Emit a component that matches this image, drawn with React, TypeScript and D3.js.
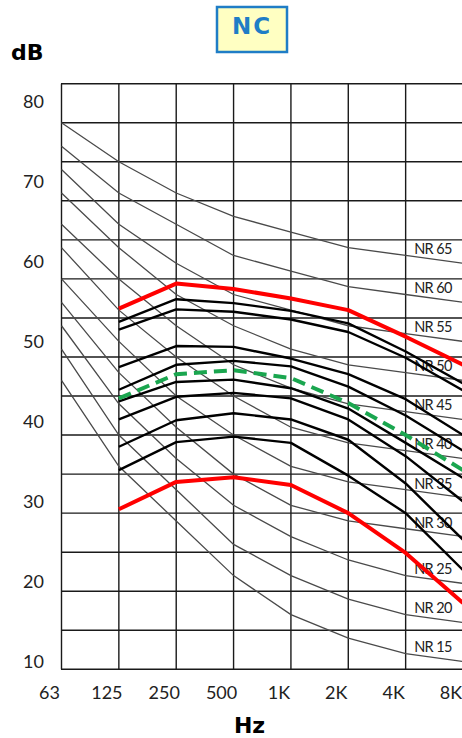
import React from "react";
import * as d3 from "d3";

const W = 462;
const H = 738;

// Frequency bands (octave centres) and axis labels
const freqLabels = ["63", "125", "250", "500", "1K", "2K", "4K", "8K"];
const spectrumFreqs = ["125", "250", "500", "1K", "2K", "4K", "8K"];
const dbTickLabels = [10, 20, 30, 40, 50, 60, 70, 80];
const gridLevels = [10, 15, 20, 25, 30, 35, 40, 45, 50, 55, 60, 65, 70, 75, 80, 85];

// Reference curves (thin grey) – values per octave band 63..8K
const curveNames = ["NR 15", "NR 20", "NR 25", "NR 30", "NR 35", "NR 40", "NR 45", "NR 50", "NR 55", "NR 60", "NR 65"];
const curve15 = [47, 36, 29, 22, 17, 14, 12, 11];
const curve20 = [51, 40, 33, 26, 22, 19, 17, 16];
const curve25 = [54, 44, 37, 31, 27, 24, 22, 21];
const curve30 = [57, 48, 41, 35, 31, 29, 28, 27];
const curve35 = [60, 52, 45, 40, 36, 34, 33, 32];
const curve40 = [64, 56, 50, 45, 41, 39, 38, 37];
const curve45 = [67, 60, 54, 49, 46, 44, 43, 42];
const curve50 = [71, 64, 58, 54, 51, 49, 48, 47];
const curve55 = [74, 67, 62, 58, 56, 54, 53, 52];
const curve60 = [77, 71, 67, 63, 61, 59, 58, 57];
const curve65 = [80, 75, 71, 68, 66, 64, 63, 62];
const curves = [curve15, curve20, curve25, curve30, curve35, curve40, curve45, curve50, curve55, curve60, curve65];

// Measured spectra (black) – values per octave band 125..8K
const black1 = [54.5, 57.4, 56.9, 55.9, 54.3, 50.7, 46.6];
const black2 = [53.5, 56.1, 55.8, 54.8, 53.2, 49.9, 45.7];
const black3 = [48.7, 51.4, 51.3, 49.8, 47.8, 44.6, 40.0];
const black4 = [45.8, 49.0, 49.5, 48.8, 46.2, 42.5, 38.0];
const black5 = [44.3, 46.8, 47.1, 46.0, 43.4, 39.0, 34.5];
const black6 = [42.0, 44.9, 45.4, 44.7, 42.0, 37.3, 31.5];
const black7 = [38.5, 41.9, 42.8, 42.0, 39.4, 33.8, 26.6];
const black8 = [35.5, 39.1, 39.8, 39.0, 34.8, 30.0, 22.7];
const blackSeries = [black1, black2, black3, black4, black5, black6, black7, black8];

// Limits (red) and target (green dashed)
const redUpper = [56.2, 59.4, 58.7, 57.5, 56.0, 52.6, 49.0];
const redLower = [30.5, 34.0, 34.6, 33.6, 30.0, 24.9, 18.5];
const greenTarget = [44.7, 47.8, 48.3, 47.3, 44.1, 40.0, 35.5];

const FONT = "Lato, 'Open Sans', sans-serif";
const BOLD = "'DejaVu Sans', sans-serif";

export default function App() {
  const x = d3.scalePoint<string>().domain(freqLabels).range([61.5, 463]);
  const y = d3.scaleLinear().domain([10, 85]).range([669.3, 83.7]);
  const yLabel = d3.scaleLinear().domain([10, 80]).range([661.7, 101.7]);

  const mkLine = (freqs: string[]) =>
    d3
      .line<number>()
      .x((_, i) => x(freqs[i]) as number)
      .y((d) => y(d));

  const curveLine = mkLine(freqLabels);
  const specLine = mkLine(spectrumFreqs);

  const x0 = x(freqLabels[0]) as number;
  const x1 = x(freqLabels[freqLabels.length - 1]) as number;
  const xLabelPos = x("4K") as number;

  return (
    <svg
      width={W}
      height={H}
      viewBox={`0 0 ${W} ${H}`}
      style={{ position: "absolute", left: 0, top: 0, display: "block", background: "#fff" }}
    >
      {/* Title box */}
      <rect x={217} y={7} width={70} height={45} fill="#ffffc2" stroke="#1f7dc6" strokeWidth={2.5} />
      <text
        x={252}
        y={33.5}
        textAnchor="middle"
        fontFamily={BOLD}
        fontWeight="bold"
        fontSize={23}
        letterSpacing={2}
        fill="#1f7dc6"
      >
        NC
      </text>

      {/* axis titles */}
      <text x={11} y={60} fontFamily={BOLD} fontWeight="bold" fontSize={22} fill="#000">
        dB
      </text>
      <text x={249.5} y={733} textAnchor="middle" fontFamily={BOLD} fontWeight="bold" fontSize={22} fill="#000">
        Hz
      </text>

      {/* y tick labels */}
      {dbTickLabels.map((v) => (
        <text key={v} x={44} y={yLabel(v)} dy="0.35em" textAnchor="end" fontFamily={FONT} fontSize={18} fill="#222">
          {v}
        </text>
      ))}

      {/* x tick labels */}
      {freqLabels.map((f) => (
        <text
          key={f}
          x={(x(f) as number) - 12}
          y={698.5}
          textAnchor="middle"
          fontFamily={FONT}
          fontSize={18}
          fill="#222"
        >
          {f}
        </text>
      ))}

      {/* grid */}
      {gridLevels.map((g) => (
        <line key={"h" + g} x1={x0 - 0.5} x2={x1} y1={y(g)} y2={y(g)} stroke="#1a1a1a" strokeWidth={1.4} />
      ))}
      {freqLabels.map((f) => (
        <line
          key={"v" + f}
          x1={x(f) as number}
          x2={x(f) as number}
          y1={y(85)}
          y2={y(10)}
          stroke="#1a1a1a"
          strokeWidth={1.4}
        />
      ))}

      {/* curve labels */}
      {curves.map((c, i) => (
        <text
          key={curveNames[i]}
          x={xLabelPos + 8.5}
          y={y(c[c.length - 1]) - 9}
          fontFamily={FONT}
          fontSize={14.5}
          letterSpacing={-0.6}
          fill="#222"
        >
          {curveNames[i]}
        </text>
      ))}

      {/* grey reference curves */}
      {curves.map((c, i) => (
        <path key={"c" + i} d={curveLine(c) as string} fill="none" stroke="#4a4a4a" strokeWidth={1.3} />
      ))}

      {/* black spectra */}
      {blackSeries.map((s, i) => (
        <path key={"b" + i} d={specLine(s) as string} fill="none" stroke="#000" strokeWidth={2.4} strokeLinejoin="round" />
      ))}

      {/* green dashed */}
      <path d={specLine(greenTarget) as string} fill="none" stroke="#1aa64f" strokeWidth={4} strokeDasharray="13 7" />

      {/* red limits */}
      <path d={specLine(redUpper) as string} fill="none" stroke="#ff0000" strokeWidth={4} strokeLinejoin="round" />
      <path d={specLine(redLower) as string} fill="none" stroke="#ff0000" strokeWidth={4} strokeLinejoin="round" />
    </svg>
  );
}
